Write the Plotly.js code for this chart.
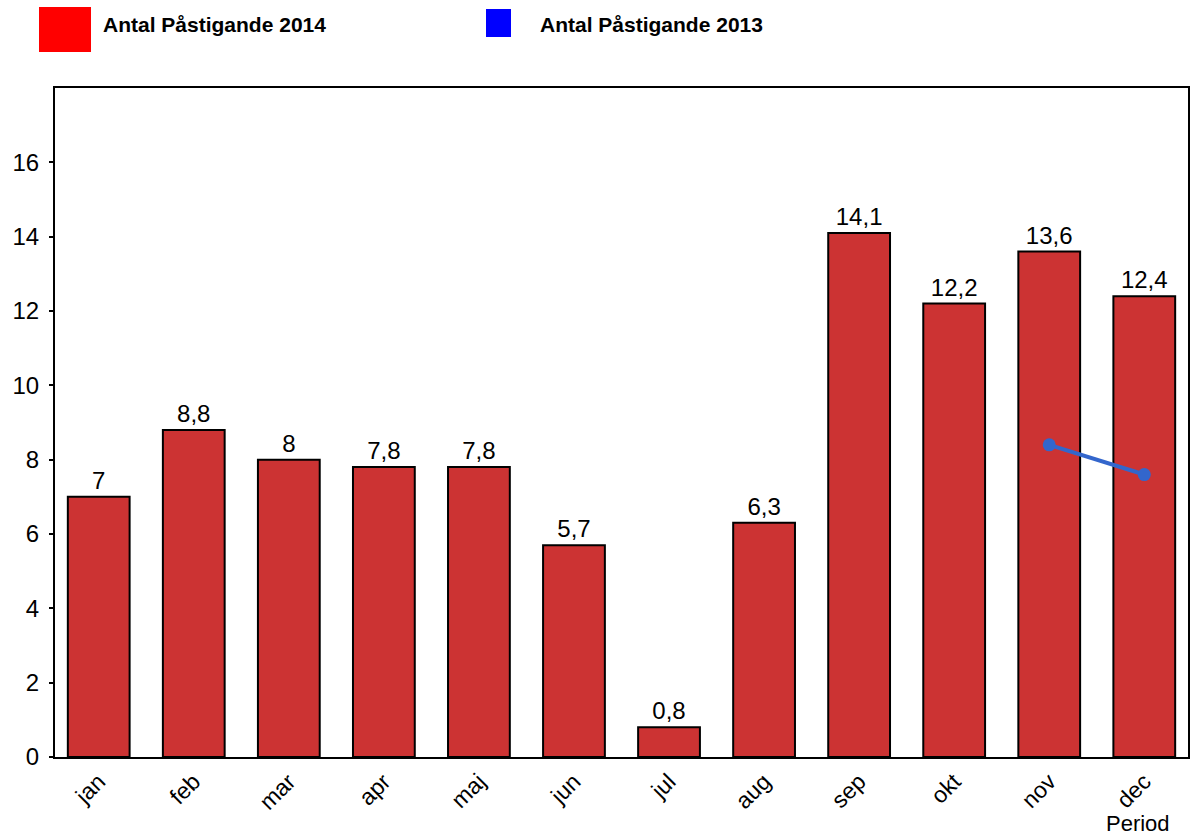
<!DOCTYPE html>
<html>
<head>
<meta charset="utf-8">
<script src="https://cdn.plot.ly/plotly-3.0.1.min.js"></script>
<style>html,body{margin:0;padding:0;background:#fff;}#chart{width:1191px;height:836px;}</style>
</head>
<body>
<div id="chart"></div>
<script>
const months = ['jan','feb','mar','apr','maj','jun','jul','aug','sep','okt','nov','dec'];
const values2014 = [7, 8.8, 8, 7.8, 7.8, 5.7, 0.8, 6.3, 14.1, 12.2, 13.6, 12.4];
const months2013 = ['nov','dec'];
const values2013 = [8.4, 7.6];
const seriesNames = ['Antal Påstigande 2014', 'Antal Påstigande 2013'];
const xTitle = 'Period';
const yTicks = [0, 2, 4, 6, 8, 10, 12, 14, 16];

const font = 'Liberation Sans, Arial, sans-serif';
const labels = values2014.map(v => String(v).replace('.', ','));

const traces = [
  {
    type: 'bar', x: months, y: values2014, name: seriesNames[0],
    marker: {color: '#CC3333', line: {color: '#000000', width: 2}},
    width: 0.65,
    text: labels, textposition: 'outside', cliponaxis: false,
    textfont: {family: font, size: 24, color: '#000'},
    hoverinfo: 'x+y', showlegend: false
  },
  {
    type: 'scatter', mode: 'lines+markers', x: months2013, y: values2013, name: seriesNames[1],
    line: {color: '#3366CC', width: 4},
    marker: {color: '#3366CC', size: 13},
    showlegend: false
  }
];

const px = (p) => (p - 55) / 1133;
const py = (p) => (757 - p) / 669;

const layout = {
  width: 1191, height: 836,
  margin: {l: 55, r: 3, t: 88, b: 79},
  paper_bgcolor: '#fff', plot_bgcolor: '#fff',
  font: {family: font, size: 24, color: '#000'},
  showlegend: false,
  xaxis: {
    type: 'category', categoryorder: 'array', categoryarray: months,
    range: [-0.46, 11.46],
    tickangle: -45, tickfont: {family: font, size: 23, color: '#000'},
    showline: true, linecolor: '#000', linewidth: 2, mirror: true,
    showgrid: false, zeroline: false, ticks: '', fixedrange: true
  },
  yaxis: {
    range: [0, 18], tickvals: yTicks,
    tickfont: {family: font, size: 24, color: '#000'},
    showline: true, linecolor: '#000', linewidth: 2, mirror: true,
    showgrid: false, zeroline: false,
    ticks: 'outside', ticklen: 4, tickwidth: 2, tickcolor: '#000',
    ticklabelstandoff: 5,
    fixedrange: true
  },
  shapes: [
    {type: 'rect', xref: 'paper', yref: 'paper', x0: px(39), x1: px(91), y0: py(52), y1: py(7), fillcolor: '#FF0000', line: {width: 0}},
    {type: 'rect', xref: 'paper', yref: 'paper', x0: px(486), x1: px(511), y0: py(37), y1: py(9), fillcolor: '#0000FF', line: {width: 0}}
  ],
  annotations: [
    {xref: 'paper', yref: 'paper', x: px(101), y: py(25), xanchor: 'left', yanchor: 'middle', showarrow: false,
     text: '<b>' + seriesNames[0] + '</b>', font: {family: font, size: 21, color: '#000'}},
    {xref: 'paper', yref: 'paper', x: px(538), y: py(25), xanchor: 'left', yanchor: 'middle', showarrow: false,
     text: '<b>' + seriesNames[1] + '</b>', font: {family: font, size: 21, color: '#000'}},
    {xref: 'paper', yref: 'paper', x: px(1138), y: py(823), xanchor: 'center', yanchor: 'middle', showarrow: false,
     text: xTitle, font: {family: font, size: 22, color: '#000'}}
  ]
};

Plotly.newPlot('chart', traces, layout, {displayModeBar: false, staticPlot: true});
</script>
</body>
</html>
